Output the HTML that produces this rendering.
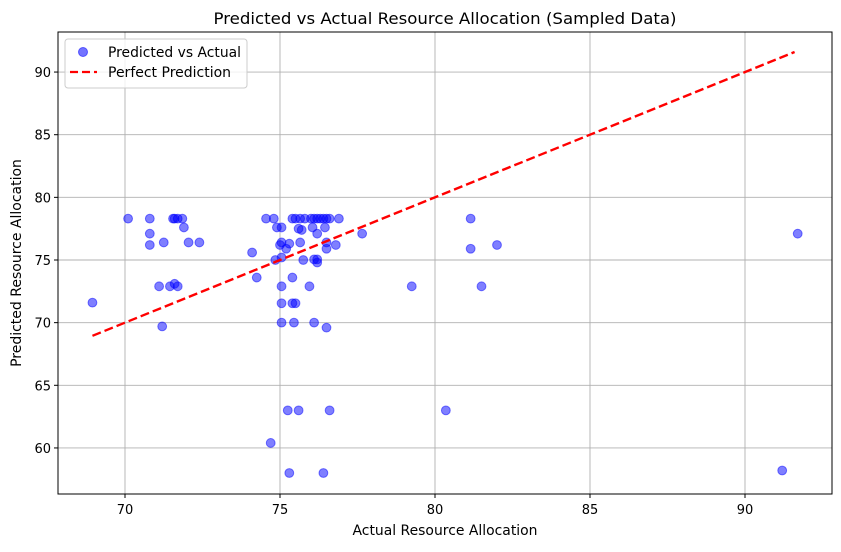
<!DOCTYPE html>
<html><head><meta charset="utf-8"><style>
body{margin:0;background:#fff;}
svg{font-family:"DejaVu Sans","Liberation Sans",sans-serif;}
</style></head><body>
<svg id="chart" width="841" height="547" xmlns="http://www.w3.org/2000/svg">
<rect width="841" height="547" fill="#fff"/>
<text x="445" y="24" text-anchor="middle" font-size="16" textLength="463" lengthAdjust="spacingAndGlyphs">Predicted vs Actual Resource Allocation (Sampled Data)</text>
<g id="grid"></g><g id="ticks"></g><g id="pts"></g><g id="line"></g>
<rect x="58" y="32" width="774" height="462" fill="none" stroke="#000" stroke-width="1"/>
<text x="445" y="535" text-anchor="middle" font-size="14" textLength="185" lengthAdjust="spacingAndGlyphs">Actual Resource Allocation</text>
<text transform="translate(21,263) rotate(-90)" text-anchor="middle" font-size="14">Predicted Resource Allocation</text>
<g>
<rect x="65" y="39" width="182" height="49" rx="3" fill="#fff" fill-opacity="0.8" stroke="#ccc"/>
<circle cx="83" cy="52" r="4.5" fill="#0000ff" fill-opacity="0.55" stroke="#0000ff" stroke-opacity="0.55"/>
<text x="108" y="57" font-size="14" textLength="133" lengthAdjust="spacingAndGlyphs">Predicted vs Actual</text>
<line x1="70" y1="72" x2="97" y2="72" stroke="red" stroke-width="2.2" stroke-dasharray="8,4"/>
<text x="108" y="77" font-size="14">Perfect Prediction</text>
</g>
</svg>
<script>
const actual=[70.1,70.8,70.8,70.8,71.55,71.6,71.7,71.85,71.9,72.05,72.4,71.25,71.1,71.45,71.6,71.7,71.2,68.95,
74.55,74.8,74.9,75.05,75.4,75.5,75.65,75.8,76.0,76.1,76.2,76.3,76.4,76.5,76.6,76.9,75.6,75.7,76.05,76.45,76.2,75.05,75.0,75.3,75.2,75.65,76.5,76.8,76.5,74.1,74.85,75.05,75.75,76.1,76.2,76.2,74.25,75.4,75.05,75.95,75.05,75.4,75.5,75.05,75.45,76.1,76.5,
75.25,75.6,76.6,74.7,75.3,76.4,80.35,79.25,81.15,81.15,81.5,82.0,91.7,91.2,77.65];
const predicted=[78.3,77.1,78.3,76.2,78.3,78.3,78.3,78.3,77.6,76.4,76.4,76.4,72.9,72.9,73.1,72.9,69.7,71.6,
78.3,78.3,77.6,77.6,78.3,78.3,78.3,78.3,78.3,78.3,78.3,78.3,78.3,78.3,78.3,78.3,77.5,77.4,77.6,77.6,77.1,76.4,76.2,76.3,75.9,76.4,76.4,76.2,75.9,75.6,75.0,75.2,75.0,75.05,74.8,75.05,73.6,73.6,72.9,72.9,71.55,71.55,71.55,70.0,70.0,70.0,69.6,
63.0,63.0,63.0,60.4,58.0,58.0,63.0,72.9,78.3,75.9,72.9,76.2,77.1,58.2,77.1];
const xTicks=[70,75,80,85,90];
const yTicks=[60,65,70,75,80,85,90];
const lineRange=[68.95,91.6];
const NS="http://www.w3.org/2000/svg";
const X=v=>125+(v-70)*31, Y=v=>260-(v-75)*12.53;
function mk(t,a,p){const e=document.createElementNS(NS,t);for(const k in a)e.setAttribute(k,a[k]);p.appendChild(e);return e;}
const g=document.getElementById('grid'),tk=document.getElementById('ticks');
xTicks.forEach(v=>{
 const l=mk('line',{x1:X(v),x2:X(v),y1:32,y2:494,stroke:'#b0b0b0','stroke-width':0.9},g);
 
 
 mk('line',{x1:X(v),x2:X(v),y1:494,y2:498,stroke:'#000'},tk);
 const t=mk('text',{x:X(v),y:514,'text-anchor':'middle','font-size':13},tk);t.textContent=v;
 
 
});
yTicks.forEach(v=>{
 const l=mk('line',{x1:58,x2:832,y1:Y(v),y2:Y(v),stroke:'#b0b0b0','stroke-width':0.9},g);
 
 
 mk('line',{x1:54,x2:58,y1:Y(v),y2:Y(v),stroke:'#000'},tk);
 const t=mk('text',{x:51,y:Y(v)+5,'text-anchor':'end','font-size':13},tk);t.textContent=v;
 
 
});
const p=document.getElementById('pts');
actual.forEach((a,i)=>{
 const c=mk('circle',{cx:X(a),cy:Y(predicted[i]),r:4.4,fill:'#0000ff','fill-opacity':0.5,stroke:'#0000ff','stroke-opacity':0.5},p);
 
 
});
const ln=mk('line',{x1:X(lineRange[0]),y1:Y(lineRange[0]),x2:X(lineRange[1]),y2:Y(lineRange[1]),stroke:'red','stroke-width':2.4,'stroke-dasharray':'9,4'},document.getElementById('line'));


</script>
</body></html>
